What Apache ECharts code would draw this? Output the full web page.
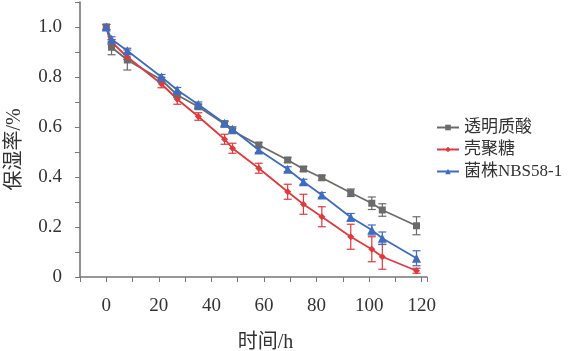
<!DOCTYPE html>
<html><head><meta charset="utf-8">
<script src="https://cdn.jsdelivr.net/npm/echarts@6/dist/echarts.min.js"></script>
<style>html,body{margin:0;padding:0;background:#fff}#c{width:588px;height:351px}</style>
</head><body><div id="c"></div>
<script>
var hours = [0, 2, 8, 21, 27, 35, 45, 48, 58, 69, 75, 82, 93, 101, 105, 118];
var seriesNames = ['透明质酸', '壳聚糖', '菌株NBS58-1'];
var hyaluronic = [1.0, 0.919, 0.868, 0.788, 0.728, 0.681, 0.612, 0.585, 0.528, 0.468, 0.432, 0.397, 0.337, 0.295, 0.268, 0.205];
var hyaluronicErr = [0.01, 0.03, 0.04, 0.01, 0.01, 0.01, 0.01, 0.01, 0.01, 0.01, 0.01, 0.01, 0.015, 0.025, 0.025, 0.036];
var chitosan = [1.0, 0.94, 0.88, 0.772, 0.711, 0.642, 0.551, 0.515, 0.435, 0.341, 0.291, 0.241, 0.161, 0.111, 0.081, 0.025];
var chitosanErr = [0.01, 0.01, 0.01, 0.015, 0.02, 0.015, 0.02, 0.02, 0.02, 0.03, 0.04, 0.04, 0.05, 0.05, 0.05, 0.01];
var strain = [1.0, 0.951, 0.905, 0.80, 0.748, 0.69, 0.615, 0.591, 0.508, 0.431, 0.381, 0.328, 0.239, 0.188, 0.155, 0.075];
var strainErr = [0.01, 0.01, 0.01, 0.01, 0.01, 0.01, 0.01, 0.01, 0.01, 0.01, 0.01, 0.01, 0.015, 0.02, 0.025, 0.03];
var colors = ['#6b6b6b', '#e0393e', '#3d6cc2'];
var symbols = ['rect', 'diamond', 'triangle'];

var vals = [hyaluronic, chitosan, strain];
var errs = [hyaluronicErr, chitosanErr, strainErr];

function errSeries(i) {
  var data = hours.map(function (h, k) { return [h, vals[i][k] - errs[i][k], vals[i][k] + errs[i][k]]; });
  return {
    type: 'custom', name: seriesNames[i] + 'err', z: 1,
    renderItem: function (params, api) {
      var x = api.value(0);
      var lo = api.coord([x, api.value(1)]);
      var hi = api.coord([x, api.value(2)]);
      var w = 4;
      var st = { stroke: colors[i], lineWidth: 1.2 };
      return { type: 'group', children: [
        { type: 'line', shape: { x1: lo[0], y1: lo[1], x2: hi[0], y2: hi[1] }, style: st },
        { type: 'line', shape: { x1: lo[0] - w, y1: lo[1], x2: lo[0] + w, y2: lo[1] }, style: st },
        { type: 'line', shape: { x1: hi[0] - w, y1: hi[1], x2: hi[0] + w, y2: hi[1] }, style: st }
      ]};
    },
    encode: { x: 0, y: [1, 2] },
    data: data, silent: true
  };
}

function lineSeries(i) {
  return {
    type: 'line', name: seriesNames[i], z: 3,
    data: hours.map(function (h, k) { return [h, vals[i][k]]; }),
    symbol: symbols[i], symbolSize: i === 2 ? 9 : 7, showAllSymbol: true,
    lineStyle: { color: colors[i], width: 1.8 },
    itemStyle: { color: colors[i] },
    animation: false
  };
}

var fontFam = '"Liberation Serif", "Noto Sans CJK SC", serif';
var chart = echarts.init(document.getElementById('c'));
chart.setOption({
  animation: false,
  grid: { left: 80, top: 2, right: 161, bottom: 74, outerBoundsMode: 'none', containLabel: false },
  legend: {
    data: seriesNames, orient: 'vertical', left: 431, top: 114,
    itemWidth: 22, itemHeight: 7, itemGap: 5,
    textStyle: { fontFamily: fontFam, fontSize: 17, color: '#333' }
  },
  xAxis: {
    type: 'value', min: -10, max: 122, interval: 10,
    name: '时间/h', nameLocation: 'middle', nameGap: 56,
    nameTextStyle: { fontFamily: fontFam, fontSize: 20, color: '#333', padding: [0, 0, 0, 24] },
    axisLine: { onZero: false, lineStyle: { color: '#777', width: 1.6 } },
    axisTick: { show: true, length: 5, inside: false, lineStyle: { color: '#777' } },
    splitLine: { show: false },
    axisLabel: {
      margin: 20, fontFamily: fontFam, fontSize: 19, color: '#333',
      formatter: function (v) { return (v >= 0 && v % 20 === 0) ? String(v) : ''; }
    }
  },
  yAxis: {
    type: 'value', min: 0, max: 1.1, interval: 0.1,
    name: '保湿率/%', nameLocation: 'middle', nameGap: 55, nameRotate: 90,
    nameTextStyle: { fontFamily: fontFam, fontSize: 20, color: '#333', padding: [0, 20, 0, 0] },
    axisLine: { show: true, onZero: false, lineStyle: { color: '#777', width: 1.6 } },
    axisTick: { show: true, length: 5, lineStyle: { color: '#777' } },
    splitLine: { show: false },
    axisLabel: {
      margin: 18, fontFamily: fontFam, fontSize: 19, color: '#333',
      formatter: function (v) {
        var r = Math.round(v * 10);
        if (r % 2 !== 0 || r > 10) return '';
        return r === 0 ? '0' : (r / 10).toFixed(1);
      }
    }
  },
  series: [errSeries(0), errSeries(1), errSeries(2), lineSeries(0), lineSeries(1), lineSeries(2)]
});
</script>
</body></html>
